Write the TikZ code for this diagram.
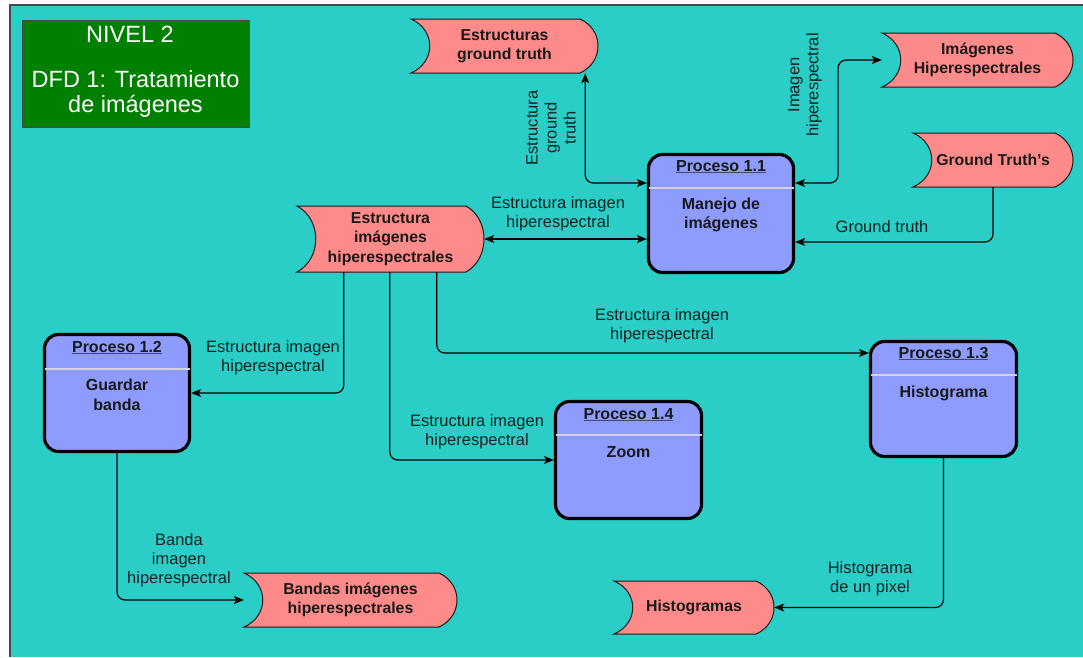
\documentclass[tikz,border=0pt]{standalone}
\usepackage{fontspec}
\setmainfont{Liberation Sans}
\usetikzlibrary{arrows.meta}

\definecolor{bgteal}{RGB}{43,205,199}
\definecolor{storepink}{RGB}{255,138,138}
\definecolor{procblue}{RGB}{142,156,255}
\definecolor{titlegreen}{RGB}{0,128,0}
\definecolor{inkdark}{RGB}{25,25,25}
\definecolor{labelink}{RGB}{15,35,35}
\definecolor{framegray}{RGB}{70,70,80}
\definecolor{rulegray}{RGB}{210,210,220}
\definecolor{ulgray}{RGB}{70,70,100}

\tikzset{
  storeshape/.style={fill=storepink, draw=inkdark, line width=1pt, line join=miter},
  storetext/.style={inner sep=0pt, align=center, text=inkdark,
    font=\bfseries\fontsize{15.8}{19.5}\selectfont},
  proc/.style={draw=black, line width=3.2pt, fill=procblue, rounded corners=14pt, inner sep=0pt},
  procrule/.style={draw=rulegray, line width=2pt, shorten <=1.6pt, shorten >=1.6pt},
  proctitle/.style={anchor=base, inner sep=0pt, text=inkdark,
    font=\bfseries\fontsize{16}{19.5}\selectfont},
  proctext/.style={inner sep=0pt, align=center, text=inkdark,
    font=\bfseries\fontsize{16}{19.5}\selectfont},
  flow/.style={draw=black, line width=1.2pt, rounded corners=8pt,
    arrows={-{Stealth[length=10pt,width=8pt,inset=2.5pt]}}},
  both/.style={arrows={{Stealth[length=10pt,width=8pt,inset=2.5pt]}-{Stealth[length=10pt,width=8pt,inset=2.5pt]}}},
  lbl/.style={inner sep=0pt, align=center, text=labelink,
    font=\fontsize{16.5}{19}\selectfont},
  titlebox/.style={fill=titlegreen, draw=framegray, line width=1pt, inner sep=0pt},
  titletext/.style={anchor=base, inner sep=0pt, text=white,
    font=\fontsize{23.5}{28}\selectfont},
}

% data store: name, left x, top y, right point x, bottom y, text
\newcommand\datastore[6]{%
  \draw[storeshape] (#2,#3) -- ({#4-18},#3)
    .. controls ({#4+6},{#3+0.2*(#5-#3)}) and ({#4+6},{#5-0.2*(#5-#3)}) .. ({#4-18},#5)
    -- (#2,#5)
    .. controls ({#2+25},{#5-0.2*(#5-#3)}) and ({#2+25},{#3+0.2*(#5-#3)}) .. (#2,#3) -- cycle;
  \node[storetext, minimum width={#4-#2}, minimum height={#5-#3}] (#1)
    at ({(#2+#4)/2},{(#3+#5)/2}) {#6};
}

% process title with a grey underline
\newcommand\proctitleline[1]{{\color{ulgray}\underline{\textcolor{inkdark}{#1}}}}

\begin{document}
\begin{tikzpicture}[x=1pt, y=-1pt]
\useasboundingbox (0,0) rectangle (1083,657);

% canvas
\fill[white] (0,0) rectangle (1083,657);
\fill[bgteal] (10,5) rectangle (1083,657);
\draw[framegray, line width=1.2pt] (10,657) -- (10,5) -- (1083,5);

% title block
\node[titlebox, minimum width=227, minimum height=107] (title) at (135.5,73.5) {};
\node[titletext] (title1) at (130,42) {NIVEL 2};
\node[titletext] (title2) at (135.5,87) {DFD 1: Tratamiento};
\node[titletext] (title3) at (135.5,112) {de imágenes};

% data stores
\datastore{ds1}{411}{19}{598}{73}{Estructuras\\ground truth}
\datastore{ds2}{882}{33}{1073}{87}{Imágenes\\Hiperespectrales}
\datastore{ds3}{913}{133}{1073}{187}{Ground Truth's}
\datastore{ds4}{297}{206}{484}{272}{Estructura\\imágenes\\hiperespectrales}
\datastore{ds5}{244}{573}{457}{627}{Bandas imágenes\\hiperespectrales}
\datastore{ds6}{614}{581}{774}{634}{Histogramas}

% processes
\node[proc, minimum width=145, minimum height=118] (p11) at (721,213.5) {};
\draw[procrule] ([yshift=-35]p11.north west) -- ([yshift=-35]p11.north east);
\node[proctitle] (p11t) at (721,171) {\proctitleline{Proceso 1.1}};
\node[proctext] (p11b) at (721,215) {Manejo de\\imágenes};

\node[proc, minimum width=145, minimum height=117] (p12) at (117,393) {};
\draw[procrule] ([yshift=-36]p12.north west) -- ([yshift=-36]p12.north east);
\node[proctitle] (p12t) at (117,352) {\proctitleline{Proceso 1.2}};
\node[proctext] (p12b) at (117,395) {Guardar\\banda};

\node[proc, minimum width=146, minimum height=117] (p14) at (628.5,460) {};
\draw[procrule] ([yshift=-35]p14.north west) -- ([yshift=-35]p14.north east);
\node[proctitle] (p14t) at (628.5,419) {\proctitleline{Proceso 1.4}};
\node[proctitle] (p14b) at (628.5,457) {Zoom};

\node[proc, minimum width=146, minimum height=115] (p13) at (943.5,399) {};
\draw[procrule] ([yshift=-35]p13.north west) -- ([yshift=-35]p13.north east);
\node[proctitle] (p13t) at (943.5,358) {\proctitleline{Proceso 1.3}};
\node[proctitle] (p13b) at (943.5,397) {Histograma};

% data flows
\draw[flow, both] ([xshift=-13]ds1.south east) |- ([yshift=30.5]p11.west);
\draw[flow, both] ([yshift=30.5]p11.east) -- ++(43,0) |- (ds2.west);
\draw[flow] (ds3.south) |- ([yshift=-28.5]p11.east);
\draw[flow, both] (ds4.east) -- (ds4.east -| p11.west);
\draw[flow] ([xshift=47]ds4.south west) |- (p12.east);
\draw[flow] ([xshift=93]ds4.south west) |- (p14.west);
\draw[flow] ([xshift=140]ds4.south west) |- ([yshift=46]p13.west);
\draw[flow] (p12.south) |- (ds5.west);
\draw[flow] (p13.south) |- (ds6.east);

% flow labels
\node[lbl, rotate=90] (l1) at (551,128) {Estructura\\ground\\truth};
\node[lbl, rotate=90] (l2) at (805,85) {Imagen\\hiperespectral};
\node[lbl] (l3) at (882,227) {Ground truth};
\node[lbl] (l4) at (558,214) {Estructura imagen\\hiperespectral};
\node[lbl] (l5) at (273,358) {Estructura imagen\\hiperespectral};
\node[lbl] (l6) at (477,432) {Estructura imagen\\hiperespectral};
\node[lbl] (l7) at (662,326) {Estructura imagen\\hiperespectral};
\node[lbl] (l8) at (179,560) {Banda\\imagen\\hiperespectral};
\node[lbl] (l9) at (870,579) {Histograma\\de un pixel};
\end{tikzpicture}
\end{document}
